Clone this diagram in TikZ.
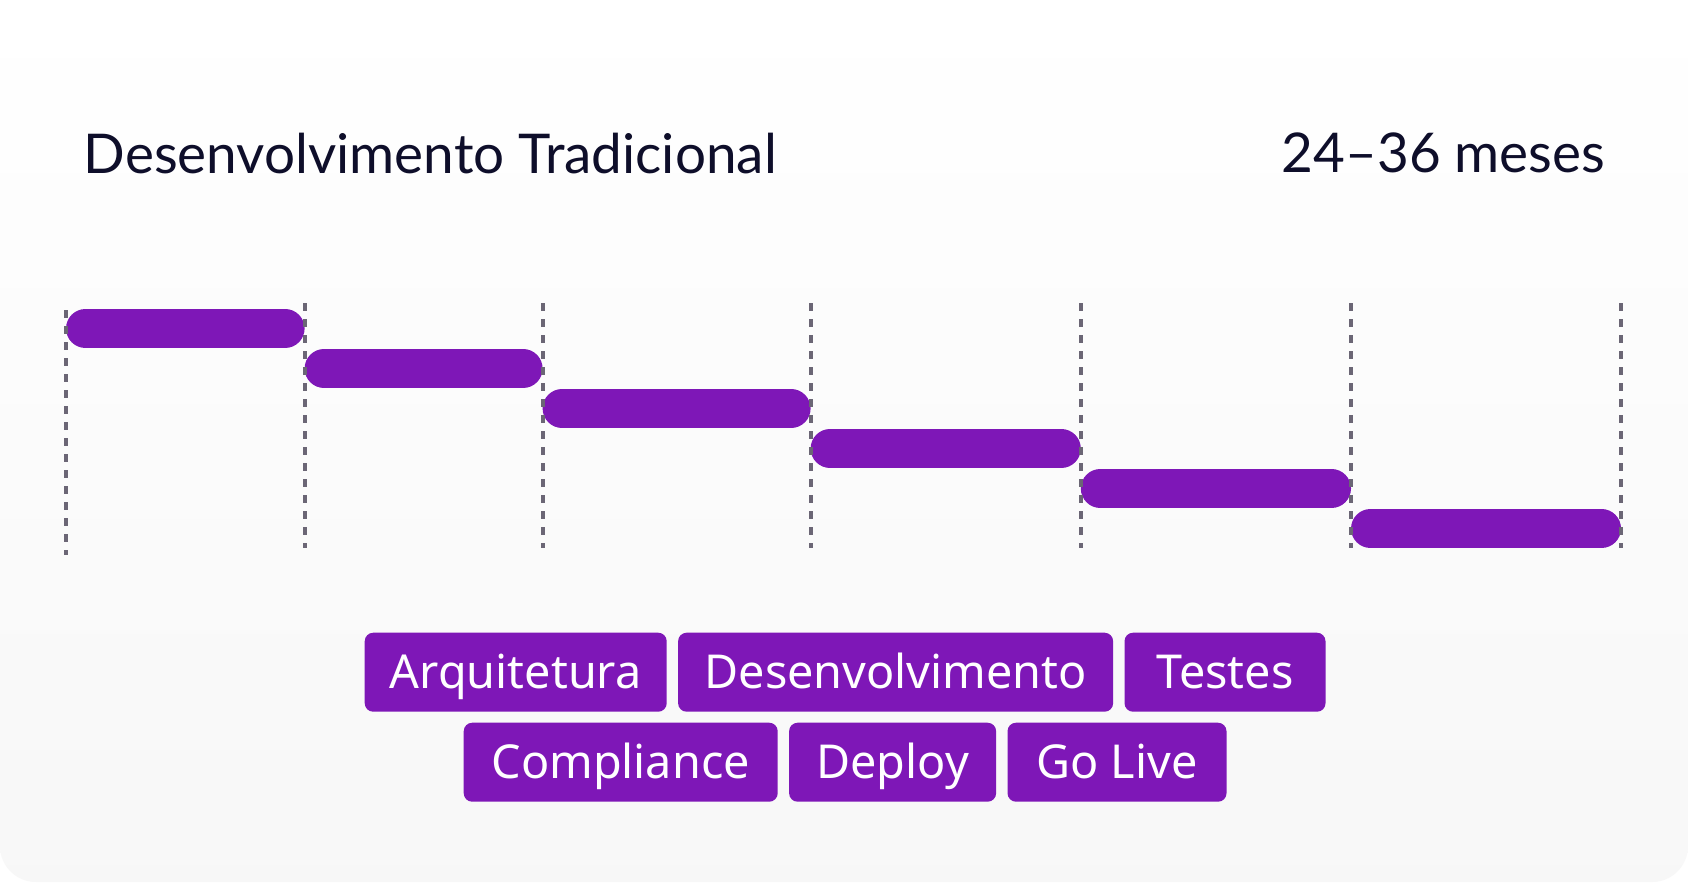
\documentclass[tikz,border=0pt]{standalone}
\usepackage{fontspec}
\setmainfont{Lato}
\newfontfamily\tagfont{Noto Sans}
\usetikzlibrary{positioning}
\definecolor{phasepurple}{HTML}{7E17B7}
\definecolor{titleink}{HTML}{0E0E2A}
\definecolor{guidegray}{HTML}{6B6675}
\begin{document}
\begin{tikzpicture}[x=0.1mm, y=-0.1mm,
        bar/.style={phasepurple, line width=3.9mm, line cap=round},
        guide/.style={guidegray, line width=0.4mm, dash pattern=on 0.8mm off 0.8mm},
        phasetag/.style={fill=phasepurple, text=white, rounded corners=0.85mm,
            minimum height=7.9mm, inner xsep=0pt, inner ysep=0pt,
            text height=3.3mm, text depth=0pt,
            font=\tagfont\fontsize{13.3pt}{16pt}\selectfont},
        heading/.style={titleink, inner sep=0pt, font=\fontsize{15.6pt}{19pt}\selectfont},
        node distance=1mm]
    \useasboundingbox (0,0) rectangle (1688,882);
    \fill[white] (0,0) rectangle (1688,882);
    \shade[top color=white, bottom color=black!3, rounded corners=3.6mm] (0,0) rectangle (1688,882);
    % heading
    \node[heading, anchor=base west] (title) at (83,173) {Desenvolvimento Tradicional};
    \node[heading, anchor=base east] (span) at (1606,172) {24–36 meses};
    % phases, one step down each
    \foreach \xa/\xb/\yc in {66/304.6/328.5, 304.6/542.6/368.5, 542.6/810.6/408.5,
            810.6/1080.8/448.5, 1080.8/1351/488.5, 1351/1621/528.5}
        \draw[bar] (\xa+19.5,\yc) -- (\xb-19.5,\yc);
    % dashed guides
    \draw[guide] (65.7,310) -- (65.7,555);
    \foreach \x in {304.6, 542.6, 810.6, 1080.8, 1351, 1621}
        \draw[guide] (\x,303) -- (\x,548);
    % phase tags
    \node[phasetag, minimum width=30.2mm, anchor=north west] (arq) at (364,632) {Arquitetura};
    \node[phasetag, minimum width=43.5mm, right=of arq] (dev) {Desenvolvimento};
    \node[phasetag, minimum width=20.1mm, right=of dev] (tst) {Testes};
    \node[phasetag, minimum width=31.4mm, anchor=north west] (cmp) at (463,722) {Compliance};
    \node[phasetag, minimum width=20.7mm, right=of cmp] (dpl) {Deploy};
    \node[phasetag, minimum width=21.9mm, right=of dpl] (live) {Go Live};
\end{tikzpicture}
\end{document}
